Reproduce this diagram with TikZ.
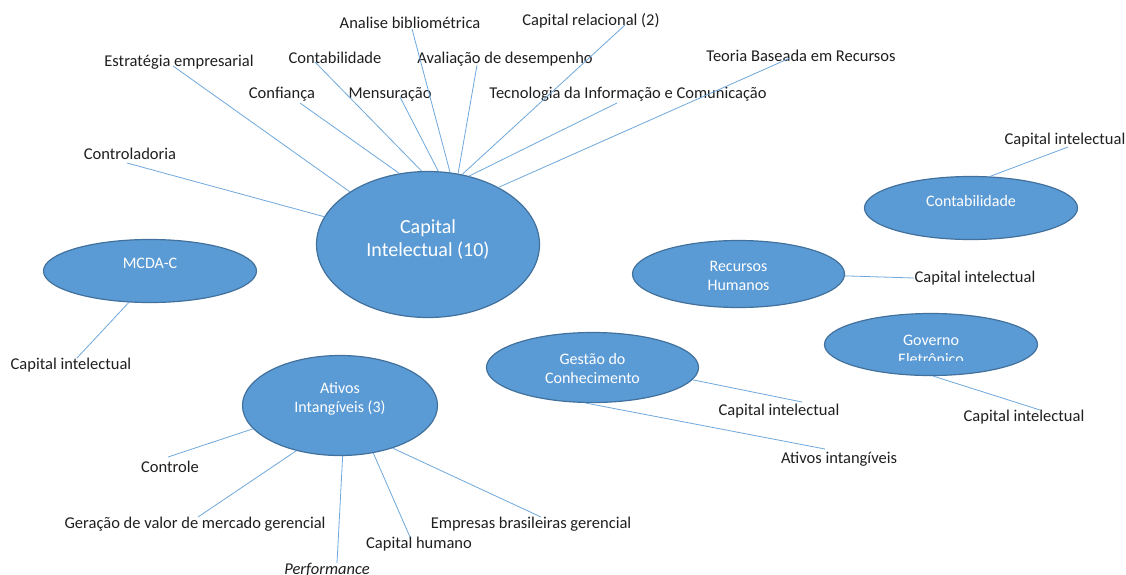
\documentclass[tikz,border=0pt]{standalone}
\usepackage{fontspec}
\setmainfont{Carlito}
\usetikzlibrary{shapes.geometric}
\definecolor{ellfill}{HTML}{5B9BD5}
\definecolor{elledge}{HTML}{41719C}
\definecolor{connc}{HTML}{6FA8DC}
\tikzset{
  ell/.style={ellipse, draw=elledge, line width=1.2pt, fill=ellfill, inner sep=0pt},
  etext/.style={text=white, font=\fontsize{16}{19}\selectfont, align=center, inner sep=0pt},
  bigtext/.style={text=white, font=\fontsize{20}{23}\selectfont, align=center, inner sep=0pt},
  lbl/.style={text=black!88, font=\fontsize{16.5}{19}\selectfont, inner sep=0pt, text height=10.6pt, text depth=0pt},
  connector/.style={draw=connc, line width=0.8pt},
}
\begin{document}
\begin{tikzpicture}[x=1pt,y=-1pt]
\useasboundingbox (0,0) rectangle (1126,574);
\fill[white] (0,0) rectangle (1126,574);

% ellipses
\node[ell, minimum width=223pt, minimum height=146pt] (ci) at (428,244.5) {};
\node[ell, minimum width=213pt, minimum height=63pt] (mcda) at (150,271) {};
\node[ell, minimum width=213pt, minimum height=63pt] (cont) at (971,208) {};
\node[ell, minimum width=212pt, minimum height=67pt] (rh) at (738.5,274) {};
\node[ell, minimum width=213pt, minimum height=62pt] (gov) at (931,344.5) {};
\node[ell, minimum width=212pt, minimum height=70pt] (gc) at (592.5,367.5) {};
\node[ell, minimum width=195pt, minimum height=100pt] (ai) at (340,405.5) {};

% ellipse texts
\node[bigtext] (tci) at (428,239) {Capital\\Intelectual (10)};
\node[etext] (tmcda) at (150,263) {MCDA-C};
\node[etext] (tcont) at (971,201) {Contabilidade};
\node[etext] (trh) at (738.5,276) {Recursos\\Humanos};
\node[etext] (tgc) at (592.5,368) {Gestão do\\Conhecimento};
\node[etext] (tai) at (340,398.5) {Ativos\\Intangíveis (3)};
\begin{scope}
  \clip (820,300) rectangle (1045,360.5);
  \node[etext] (tgov) at (931,350) {Governo\\Eletrônico};
\end{scope}

% labels around Capital Intelectual
\node[lbl] (l1) at (410,23) {Analise bibliométrica};
\node[lbl] (l2) at (591,20) {Capital relacional (2)};
\node[lbl] (l3) at (179,61) {Estratégia empresarial};
\node[lbl] (l4) at (335,58) {Contabilidade};
\node[lbl] (l5) at (505,58) {Avaliação de desempenho};
\node[lbl] (l6) at (801,56) {Teoria Baseada em Recursos};
\node[lbl] (l7) at (282,93) {Confiança};
\node[lbl] (l8) at (390,93) {Mensuração};
\node[lbl] (l9) at (628,93) {Tecnologia da Informação e Comunicação};
\node[lbl] (l10) at (130,154) {Controladoria};

% other labels
\node[lbl] (c1) at (1065,139) {Capital intelectual};
\node[lbl] (c2) at (975,277) {Capital intelectual};
\node[lbl] (c3) at (71,364) {Capital intelectual};
\node[lbl] (c4) at (1024,416) {Capital intelectual};
\node[lbl] (c5) at (779,410) {Capital intelectual};
\node[lbl] (c6) at (839,458) {Ativos intangíveis};
\node[lbl] (a1) at (170,467) {Controle};
\node[lbl] (a2) at (195,523) {Geração de valor de mercado gerencial};
\node[lbl] (a3) at (531,523) {Empresas brasileiras gerencial};
\node[lbl] (a4) at (419,543) {Capital humano};
\node[lbl, font=\fontsize{16.5}{19}\selectfont\itshape] (a5) at (327,569) {Performance};

% connector free ends (at the labels)
\coordinate (e1) at (412,29);
\coordinate (e2) at (625,25);
\coordinate (e3) at (173,66);
\coordinate (e4) at (315,62);
\coordinate (e5) at (477,65);
\coordinate (e6) at (790,58);
\coordinate (e7) at (300,103);
\coordinate (e8) at (400,97);
\coordinate (e9) at (617,103);
\coordinate (e10) at (127,163);
\coordinate (f1) at (1068,147);
\coordinate (f2) at (914,278);
\coordinate (f3) at (77,358);
\coordinate (f4) at (1040,410);
\coordinate (f5) at (802,402);
\coordinate (f6) at (825,449);
\coordinate (g1) at (168,457);
\coordinate (g2) at (198,517);
\coordinate (g3) at (541,517);
\coordinate (g4) at (410,537);
\coordinate (g5) at (337,563);

% connectors
\draw[connector] (ci.73) -- (e1);
\draw[connector] (ci.64) -- (e2);
\draw[connector] (ci.146) -- (e3);
\draw[connector] (ci.95.4) -- (e4);
\draw[connector] (ci.67.5) -- (e5);
\draw[connector] (ci.39) -- (e6);
\draw[connector] (ci.112) -- (e7);
\draw[connector] (ci.82.3) -- (e8);
\draw[connector] (ci.59) -- (e9);
\draw[connector] (ci.165) -- (e10);
\draw[connector] (cont.59) -- (f1);
\draw[connector] (rh.-1.6) -- (f2);
\draw[connector] (mcda.-124.5) -- (f3);
\draw[connector] (gov.-86.5) -- (f4);
\draw[connector] (gc.-7.3) -- (f5);
\draw[connector] (gc.-101.3) -- (f6);
\draw[connector] (ai.-165.7) -- (g1);
\draw[connector] (ai.-134) -- (g2);
\draw[connector] (ai.-39.3) -- (g3);
\draw[connector] (ai.-55.8) -- (g4);
\draw[connector] (ai.-87.7) -- (g5);
\end{tikzpicture}
\end{document}
